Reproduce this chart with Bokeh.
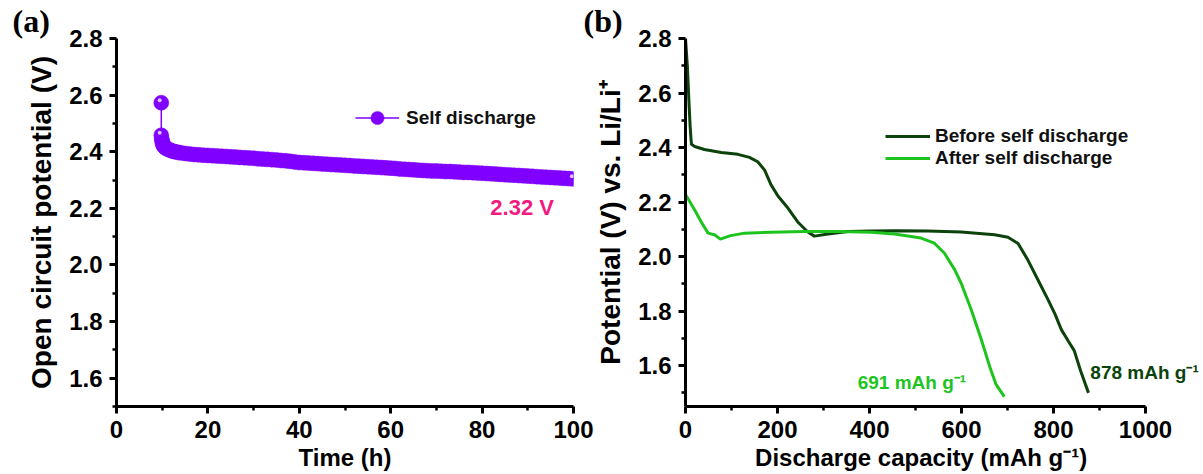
from bokeh.plotting import figure
from bokeh.models import Range1d, FixedTicker, Label, Legend, LegendItem, PrintfTickFormatter
from bokeh.layouts import row
from bokeh.embed import file_html
from bokeh.resources import INLINE

# ---------------- Panel (a): open circuit potential vs time ----------------
time_h = [9.8, 9.8, 9.9, 10.0, 10.1, 10.2, 10.3, 10.5, 10.7, 11.0, 11.4, 11.8, 12.3, 12.8,
          13.4, 14.0, 15, 16, 17, 18, 19,
          20, 21, 22, 23, 24, 25, 26, 27, 28, 29, 30, 31, 32, 33, 34, 35, 36, 37, 38, 39,
          40, 41, 42, 43, 44, 45, 46, 47, 48, 49, 50, 51, 52, 53, 54, 55, 56, 57, 58, 59,
          60, 61, 62, 63, 64, 65, 66, 67, 68, 69, 70, 71, 72, 73, 74, 75, 76, 77, 78, 79,
          80, 81, 82, 83, 84, 85, 86, 87, 88, 89, 90, 91, 92, 93, 94, 95, 96, 97, 98, 99, 100]
ocp_v = [2.573, 2.458, 2.445, 2.436, 2.430, 2.425, 2.421, 2.417, 2.414, 2.411, 2.408, 2.405,
         2.402, 2.400, 2.398, 2.396, 2.394, 2.392, 2.390, 2.389, 2.388,
         2.387, 2.386, 2.385, 2.384, 2.383, 2.382, 2.381, 2.380, 2.379, 2.378,
         2.377, 2.375, 2.374, 2.373, 2.372, 2.371, 2.369, 2.368, 2.366, 2.364,
         2.362, 2.361, 2.360, 2.359, 2.358, 2.357, 2.356, 2.355, 2.354, 2.353,
         2.352, 2.351, 2.350, 2.349, 2.348, 2.347, 2.346, 2.345, 2.344, 2.343,
         2.342, 2.341, 2.339, 2.338, 2.337, 2.336, 2.335, 2.334, 2.333, 2.332,
         2.332, 2.331, 2.330, 2.330, 2.329, 2.328, 2.327, 2.327, 2.326, 2.325,
         2.324, 2.323, 2.322, 2.321, 2.320, 2.319, 2.318, 2.317, 2.316, 2.315,
         2.314, 2.313, 2.312, 2.311, 2.310, 2.309, 2.308, 2.307, 2.306, 2.305, 2.304]
a_xticks = [0, 20, 40, 60, 80, 100]
a_xminor = [10, 30, 50, 70, 90]
a_yticks = [1.6, 1.8, 2.0, 2.2, 2.4, 2.6, 2.8]
a_yminor = [1.5, 1.7, 1.9, 2.1, 2.3, 2.5, 2.7]

# ---------------- Panel (b): discharge curves ----------------
before_cap = [0, 4, 8, 10, 12, 13, 20, 41, 78, 114, 139, 157, 172, 186, 201, 223, 244, 266,
              280, 310, 353, 404, 460, 527, 599, 672, 701, 723, 744, 766, 788, 803, 817, 832,
              845, 859, 876]
before_v = [2.80, 2.70, 2.55, 2.48, 2.43, 2.412, 2.404, 2.393, 2.382, 2.375, 2.364, 2.348,
            2.317, 2.263, 2.222, 2.177, 2.127, 2.090, 2.075, 2.083, 2.092, 2.094, 2.095,
            2.094, 2.090, 2.080, 2.071, 2.048, 1.988, 1.915, 1.842, 1.790, 1.732, 1.690,
            1.655, 1.580, 1.500]
after_cap = [1, 20, 34, 49, 63, 76, 96, 128, 186, 259, 331, 404, 454, 512, 541, 563, 585,
             599, 621, 643, 661, 675, 693]
after_v = [2.225, 2.171, 2.128, 2.086, 2.080, 2.064, 2.076, 2.086, 2.089, 2.092, 2.092,
           2.089, 2.083, 2.068, 2.049, 2.012, 1.952, 1.903, 1.806, 1.696, 1.598, 1.531, 1.486]
b_xticks = [0, 200, 400, 600, 800, 1000]
b_xminor = [100, 300, 500, 700, 900]
b_yticks = [1.6, 1.8, 2.0, 2.2, 2.4, 2.6, 2.8]
b_yminor = [1.5, 1.7, 1.9, 2.1, 2.3, 2.5, 2.7]

PURPLE = "#7f00ff"
DARK = "#0b430b"
LIGHT = "#1ec41e"
PINK = "#f2197f"
FONT = "Liberation Sans"
SERIF = "Liberation Serif"
NBSP = "\u00a0"


def style(p, xt, xm, yt, ym, xlabel, ylabel):
    p.xaxis.ticker = FixedTicker(ticks=xt, minor_ticks=xm)
    p.yaxis.ticker = FixedTicker(ticks=yt, minor_ticks=ym)
    p.yaxis.formatter = PrintfTickFormatter(format="%.1f")
    p.xaxis.axis_label = xlabel
    p.yaxis.axis_label = ylabel
    for ax in (p.xaxis[0], p.yaxis[0]):
        ax.axis_line_width = 3
        ax.axis_line_color = "black"
        ax.major_tick_line_width = 3
        ax.minor_tick_line_width = 2.5
        ax.major_tick_out = 7
        ax.major_tick_in = 0
        ax.minor_tick_out = 4
        ax.minor_tick_in = 0
        ax.major_label_text_font = FONT
        ax.major_label_text_font_style = "bold"
        ax.major_label_text_font_size = "24px"
        ax.major_label_text_color = "black"
        ax.axis_label_text_font = FONT
        ax.axis_label_text_font_style = "bold"
        ax.axis_label_text_color = "black"
        ax.major_label_standoff = 7
    p.xaxis.axis_label_text_font_size = "24px"
    p.yaxis.axis_label_text_font_size = "28px"
    p.xaxis.axis_label_standoff = 3
    p.yaxis.axis_label_standoff = 9
    p.xgrid.visible = False
    p.ygrid.visible = False
    p.outline_line_color = None


def panel_title(p, text, offset):
    p.title.text = text
    p.title.align = "left"
    p.title.offset = offset
    p.title.standoff = 0
    p.title.text_font = SERIF
    p.title.text_font_style = "bold"
    p.title.text_font_size = "32px"
    p.title.text_color = "black"


# ---- figure (a)
pa = figure(width=600, height=474, output_backend="svg", toolbar_location=None,
            x_range=Range1d(0, 100), y_range=Range1d(1.5, 2.8),
            min_border_left=116, min_border_right=27, min_border_top=38, min_border_bottom=68)
style(pa, a_xticks, a_xminor, a_yticks, a_yminor, "Time (h)", "Open circuit potential (V)")
panel_title(pa, "(a)", -104)

la = pa.line(time_h, ocp_v, line_color=PURPLE, line_width=1.5)
sa = pa.scatter(time_h, ocp_v, size=15, fill_color=PURPLE, line_color=PURPLE, line_width=0.5)
hi_idx = [0, 1, len(time_h) - 1]
hx = [time_h[i] - 0.35 for i in hi_idx]
hy = [ocp_v[i] + 0.009 for i in hi_idx]
ha = pa.scatter(hx, hy, size=4, fill_color="#dcc2ff", line_color=None)

leg_a = Legend(items=[LegendItem(label="Self discharge", renderers=[la, sa])],
               location=(239, 272), orientation="vertical",
               glyph_width=44, glyph_height=33, label_standoff=7, padding=0, margin=0,
               spacing=0, border_line_color=None, background_fill_alpha=0,
               label_text_font=FONT, label_text_font_style="bold",
               label_text_font_size="19px", label_text_color="#111111")
pa.add_layout(leg_a)

pa.add_layout(Label(x=81.8, y=2.204, text="2.32 V", text_color=PINK, text_font=FONT,
                    text_font_style="bold", text_font_size="22px", text_baseline="middle",
                    text_align="left"))

# ---- figure (b): overlaps panel (a)'s right margin (transparent border), frame reaches
# the right edge with its x axis bounded to 0..1000
pb = figure(width=625, height=474, output_backend="svg", toolbar_location=None,
            x_range=Range1d(0, 1126), y_range=Range1d(1.45, 2.8),
            min_border_left=107, min_border_right=0, min_border_top=38, min_border_bottom=68)
pb.margin = (0, 0, 0, -22)
pb.border_fill_color = None
pb.border_fill_alpha = 0
style(pb, b_xticks, b_xminor, b_yticks, b_yminor,
      "Discharge capacity (mAh g\u207b\u00b9)" + NBSP * 7, "Potential (V) vs. Li/Li\u207a")
pb.xaxis.bounds = (0, 1000)
panel_title(pb, "(b)", -102)

lb1 = pb.line(before_cap, before_v, line_color=DARK, line_width=3)
lb2 = pb.line(after_cap, after_v, line_color=LIGHT, line_width=3)

leg_b = Legend(items=[LegendItem(label="Before self discharge", renderers=[lb1]),
                      LegendItem(label="After self discharge", renderers=[lb2])],
               location=(200, 237), orientation="vertical",
               glyph_width=45, glyph_height=22, label_height=22, label_standoff=5,
               padding=0, margin=0, spacing=0, border_line_color=None,
               background_fill_alpha=0, label_text_font=FONT, label_text_font_style="bold",
               label_text_font_size="19px", label_text_color="#111111")
pb.add_layout(leg_b)

pb.add_layout(Label(x=610, y=1.539, text="691 mAh g\u207b\u00b9", text_color=LIGHT,
                    text_font=FONT, text_font_style="bold", text_font_size="19px",
                    text_baseline="middle", text_align="right"))
pb.add_layout(Label(x=880, y=1.575, text="878 mAh g\u207b\u00b9", text_color=DARK,
                    text_font=FONT, text_font_style="bold", text_font_size="19px",
                    text_baseline="middle", text_align="left"))

layout = row(pa, pb)
open("out.html", "w").write(file_html(layout, INLINE))
